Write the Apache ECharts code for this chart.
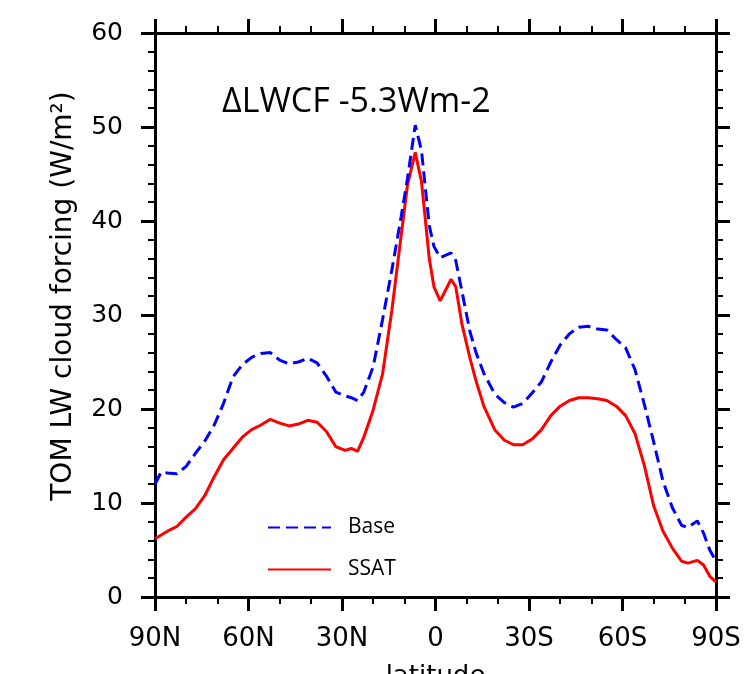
<!DOCTYPE html>
<html lang="en">
<head>
	<meta charset="UTF-8">
	<title>LWCF</title>
	<style>
	body, div {
		margin: 0;
		padding: 0;
	}
	#chart {
		width: 756px;
		height: 674px;
		background: #fff;
	}
	</style>
</head>
<body>
	<div id="chart"></div>

	<script src="https://cdn.jsdelivr.net/npm/echarts@6/dist/echarts.min.js"></script>
	<script>

	// latitude (deg, + = N)
	var lats = [90, 88, 86, 83, 80, 77, 74, 71, 68, 65, 62, 59, 56, 53, 50, 47, 44, 41, 38, 35, 32, 29, 27, 25, 23, 20, 17, 14, 11, 9, 6.5, 4.5, 2, 0.5, -1.5, -5, -6.5, -8.5, -11, -13, -15.5, -19, -22, -25, -28, -31, -34, -37, -40, -43, -46, -49, -52, -55, -58, -61, -64, -67, -70, -73, -76, -79, -81, -84, -86, -88, -90];

	var base = [12.0, 13.3, 13.2, 13.1, 13.9, 15.3, 16.6, 18.3, 20.6, 23.4, 24.7, 25.5, 25.9, 26.0, 25.2, 24.8, 25.0, 25.4, 24.9, 23.5, 21.8, 21.4, 21.2, 20.9, 21.8, 24.5, 29.5, 34.8, 40.5, 44.5, 50.2, 47.5, 39.5, 37.3, 36.1, 36.6, 35.8, 32.5, 28.3, 26.0, 23.8, 21.6, 20.7, 20.2, 20.6, 21.7, 22.9, 25.0, 26.8, 28.0, 28.7, 28.8, 28.5, 28.4, 27.4, 26.5, 24.2, 20.5, 16.5, 12.3, 9.5, 7.6, 7.4, 8.1, 6.8, 5.0, 3.8];

	var ssat = [6.2, 6.6, 7.0, 7.5, 8.5, 9.4, 10.8, 12.8, 14.6, 15.8, 17.0, 17.8, 18.3, 18.9, 18.5, 18.2, 18.4, 18.8, 18.6, 17.6, 16.0, 15.6, 15.8, 15.5, 17.0, 19.9, 23.7, 30.5, 38.5, 43.8, 47.3, 44.2, 36.0, 33.0, 31.5, 33.8, 33.0, 29.0, 25.5, 23.0, 20.3, 17.8, 16.7, 16.2, 16.2, 16.8, 17.8, 19.3, 20.3, 20.9, 21.2, 21.2, 21.1, 20.9, 20.3, 19.3, 17.4, 14.0, 9.7, 7.0, 5.2, 3.8, 3.6, 3.9, 3.4, 2.2, 1.6];

	var yTicks = [0, 10, 20, 30, 40, 50, 60];

	function pairs(vals) {
		var out = [];
		for (var i = 0; i < lats.length; i++) {
			out.push([lats[i], vals[i]]);
		}
		return out;
	}

	function latLabel(v) {
		if (v > 0) return v + 'N';
		if (v < 0) return (-v) + 'S';
		return '0';
	}

	var tickFont = 'DejaVu Sans';
	var lineW = 3;

	// axis look: ticks pointing out, thick frame
	function xAx(pos, show) {
		return {
			type: 'value',
			position: pos,
			min: -90,
			max: 90,
			interval: 30,
			inverse: true,
			name: show ? 'latitude' : '',
			nameLocation: 'middle',
			nameGap: 67,
			nameTextStyle: { fontFamily: tickFont, fontSize: 26, color: '#000' },
			axisLine: { show: true, onZero: false, lineStyle: { color: '#000', width: lineW } },
			axisTick: { show: true, length: 14, lineStyle: { color: '#000', width: 3 } },
			minorTick: { show: true, splitNumber: 3, length: 7, lineStyle: { color: '#000', width: 2 } },
			axisLabel: {
				show: show,
				margin: 29,
				fontFamily: tickFont,
				fontSize: 26,
				color: '#000',
				formatter: latLabel
			},
			splitLine: { show: false }
		};
	}

	function yAx(pos, show) {
		return {
			type: 'value',
			position: pos,
			min: yTicks[0],
			max: yTicks[yTicks.length - 1],
			interval: 10,
			name: show ? 'TOM LW cloud forcing (W/m\u00b2)' : '',
			nameLocation: 'middle',
			nameGap: 77,
			// left padding pushes the rotated title up a bit
			nameTextStyle: { fontFamily: tickFont, fontSize: 28, color: '#000', padding: [0, 0, 0, 38] },
			axisLine: { show: true, onZero: false, lineStyle: { color: '#000', width: lineW } },
			axisTick: { show: true, length: 14, lineStyle: { color: '#000', width: 3 } },
			minorTick: { show: true, splitNumber: 5, length: 7, lineStyle: { color: '#000', width: 2 } },
			axisLabel: {
				show: show,
				margin: 32,
				fontFamily: tickFont,
				fontSize: 25,
				color: '#000'
			},
			splitLine: { show: false }
		};
	}

	var myChart = echarts.init(document.getElementById('chart'), null, { renderer: 'canvas' });

	myChart.setOption({
		animation: false,
		backgroundColor: '#fff',
		title: {
			text: '\u0394LWCF -5.3Wm-2',
			left: 217,
			top: 80,
			textStyle: { fontFamily: 'Open Sans', fontSize: 34, fontWeight: 'normal', color: '#000' }
		},
		legend: {
			orient: 'vertical',
			left: 262,
			top: 512,
			itemWidth: 63,
			itemHeight: 14,
			itemGap: 21,
			itemStyle: { opacity: 0 },
			textStyle: { fontFamily: 'Open Sans', fontSize: 21, color: '#000', padding: [0, 0, 0, 12] },
			data: ['Base', 'SSAT']
		},
		grid: {
			left: 155,
			right: 40,
			top: 33,
			bottom: 77,
			outerBoundsMode: 'none'
		},
		xAxis: [xAx('bottom', true), xAx('top', false)],
		yAxis: [yAx('left', true), yAx('right', false)],
		series: [
			{
				name: 'Base',
				type: 'line',
				symbol: 'none',
				lineStyle: { color: '#0000ff', width: 3, type: [12, 6] },
				itemStyle: { color: '#0000ff' },
				data: pairs(base),
				z: 3
			},
			{
				name: 'SSAT',
				type: 'line',
				symbol: 'none',
				lineStyle: { color: '#ff0000', width: 3 },
				itemStyle: { color: '#ff0000' },
				data: pairs(ssat),
				z: 2
			}
		]
	});

	</script>
</body>
</html>
